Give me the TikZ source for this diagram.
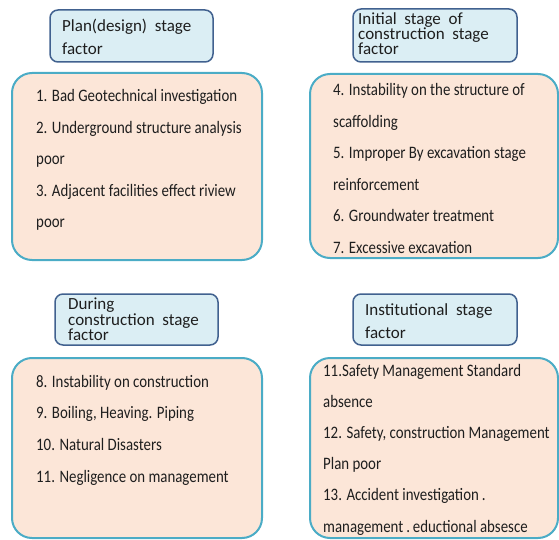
\documentclass[tikz,border=0pt]{standalone}
\usepackage{fontspec}
\newfontfamily\itemfont[FakeStretch=0.85]{Carlito}
\newfontfamily\headfont{Carlito}
\definecolor{headfill}{HTML}{DBEEF4}
\definecolor{headline}{HTML}{41618F}
\definecolor{boxfill}{HTML}{FCE6D8}
\definecolor{boxline}{HTML}{4BACC6}
\definecolor{txt}{HTML}{1E1E1E}
\tikzset{
  headbox/.style={draw=headline,fill=headfill,line width=1.5pt,rounded corners=8pt},
  factorbox/.style={draw=boxline,fill=boxfill,line width=2pt,rounded corners=20pt},
  item/.style={anchor=base west,inner sep=0pt,text=txt,font=\itemfont\fontsize{17.5}{20}\selectfont},
  head/.style={anchor=base west,inner sep=0pt,text=txt,font=\headfont\fontsize{17}{20}\selectfont}
}
\begin{document}
\begin{tikzpicture}[x=1pt,y=-1pt]
\useasboundingbox (0,0) rectangle (559,540);
% stage boxes
\node[factorbox,minimum width=250,minimum height=187] (plan) at (137,166.5) {};
\node[factorbox,minimum width=248,minimum height=184] (initial) at (434,166) {};
\node[factorbox,minimum width=250,minimum height=180] (during) at (137,448) {};
\node[factorbox,minimum width=248,minimum height=180] (inst) at (434,448) {};
% headings
\node[headbox,minimum width=163,minimum height=52] (planhead) at (131.5,36) {};
\node[headbox,minimum width=164,minimum height=53] (initialhead) at (435,35.5) {};
\node[headbox,minimum width=163,minimum height=51] (duringhead) at (136.5,319.5) {};
\node[headbox,minimum width=164,minimum height=51] (insthead) at (435,319.5) {};
\node[head] (h1a) at (62,31.5) {Plan(design)\ \ stage};
\node[head] (h1b) at (62,55) {factor};
\node[head] (h2a) at (358,25) {Initial\ \ stage\ \ of};
\node[head] (h2b) at (358,40) {construction\ \ stage};
\node[head] (h2c) at (358,55) {factor};
\node[head] (h3a) at (68,309) {During};
\node[head] (h3b) at (68,325) {construction\ \ stage};
\node[head] (h3c) at (68,340) {factor};
\node[head] (h4a) at (365,315) {Institutional\ \ stage};
\node[head] (h4b) at (365,338) {factor};
% factors
\foreach \t [count=\i] in {1. Bad Geotechnical investigation,
    2. Underground structure analysis, poor,
    3. Adjacent facilities effect riview, poor}
  \node[item] (p\i) at (36,101.5+31.6*\i-31.6) {\t};
\foreach \t [count=\i] in {4. Instability on the structure of, scaffolding,
    5. Improper By excavation stage, reinforcement,
    6. Groundwater treatment, 7. Excessive excavation}
  \node[item] (c\i) at (333,96+31.4*\i-31.4) {\t};
\foreach \t [count=\i] in {8. Instability on construction,
    {9. Boiling, Heaving. Piping}, 10. Natural Disasters,
    11. Negligence on management}
  \node[item] (d\i) at (36,387+31.7*\i-31.7) {\t};
\foreach \t [count=\i] in {11.Safety Management Standard, absence,
    {12. Safety, construction Management}, Plan poor,
    13. Accident investigation\,., management\,.\,eductional absesce}
  \node[item] (s\i) at (323,376+31.2*\i-31.2) {\t};
\end{tikzpicture}
\end{document}
